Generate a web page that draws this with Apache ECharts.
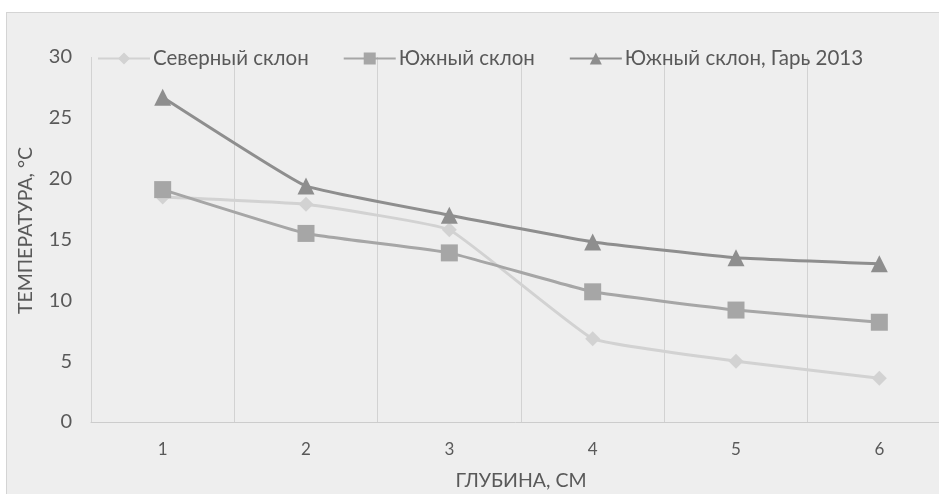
<!DOCTYPE html>
<html>
<head>
<meta charset="utf-8">
<script src="https://cdn.jsdelivr.net/npm/echarts@6/dist/echarts.min.js"></script>
<style>
  html, body { margin: 0; padding: 0; background: #fff; overflow: hidden; width: 939px; height: 494px; }
  #frame { position: absolute; left: 6px; top: 12px; width: 933px; height: 482px; background: #eeeeee;
           border-left: 1px solid #d4d4d4; border-top: 1px solid #d4d4d4; box-sizing: border-box; }
  #chart { position: absolute; left: 0; top: 0; width: 939px; height: 494px; }
</style>
</head>
<body>
<div id="frame"></div>
<div id="chart"></div>
<script>
// глубина, см
const depths = ["1", "2", "3", "4", "5", "6"];
// температура, °С
const northSlope = [18.5, 17.9, 15.8, 6.85, 5.0, 3.6];
const southSlope = [19.1, 15.5, 13.9, 10.7, 9.2, 8.2];
const southBurnt = [26.7, 19.4, 17.0, 14.8, 13.5, 13.0];
const yTicks = [0, 30, 5]; // min, max, step

const font = "Lato, 'Open Sans', sans-serif";
const txt = "#595959";

let option = {
  backgroundColor: "transparent",
  textStyle: { fontFamily: font },
  legend: {
    top: 43,
    left: 92,
    itemWidth: 52,
    itemHeight: 15,
    itemGap: 34,
    textStyle: { fontFamily: font, fontSize: 20.5, color: txt, padding: [0, 0, 0, -2] },
    data: ["Северный склон", "Южный склон", "Южный склон, Гарь 2013"]
  },
  grid: {
    left: 91,
    top: 57,
    width: 860,
    height: 365,
    outerBoundsMode: "none",
    containLabel: false
  },
  xAxis: {
    type: "category",
    data: depths,
    boundaryGap: true,
    name: "ГЛУБИНА, СМ",
    nameLocation: "middle",
    nameGap: 49,
    nameTextStyle: { fontFamily: font, fontSize: 19.5, color: txt },
    axisLine: { lineStyle: { color: "#cccccc", width: 1 } },
    axisTick: { show: false },
    axisLabel: { color: txt, fontSize: 17, margin: 19, fontFamily: font },
    splitLine: { show: true, lineStyle: { color: "#d2d2d2", width: 1 } }
  },
  yAxis: {
    type: "value",
    min: yTicks[0],
    max: yTicks[1],
    interval: yTicks[2],
    name: "ТЕМПЕРАТУРА, °С",
    nameLocation: "middle",
    nameRotate: 90,
    nameGap: 55,
    nameTextStyle: { fontFamily: font, fontSize: 19.5, color: txt, padding: [0, 0, 0, 18] },
    axisLine: { show: false },
    axisTick: { show: false },
    axisLabel: { color: txt, fontSize: 20, margin: 19, fontFamily: font },
    splitLine: { show: false }
  },
  series: [
    {
      name: "Северный склон",
      type: "line",
      data: northSlope,
      smooth: 0.1,
      symbol: "diamond",
      symbolSize: 15,
      color: "#d2d2d2",
      lineStyle: { width: 3 },
      z: 2
    },
    {
      name: "Южный склон",
      type: "line",
      data: southSlope,
      smooth: 0.1,
      symbol: "rect",
      symbolSize: 17,
      color: "#a6a6a6",
      lineStyle: { width: 3 },
      z: 3
    },
    {
      name: "Южный склон, Гарь 2013",
      type: "line",
      data: southBurnt,
      smooth: 0.1,
      symbol: "triangle",
      symbolSize: 17,
      color: "#8e8e8e",
      lineStyle: { width: 3 },
      z: 4
    }
  ]
};

let chart = echarts.init(document.getElementById("chart"), null, { renderer: "canvas" });
chart.setOption(option);
</script>
</body>
</html>
